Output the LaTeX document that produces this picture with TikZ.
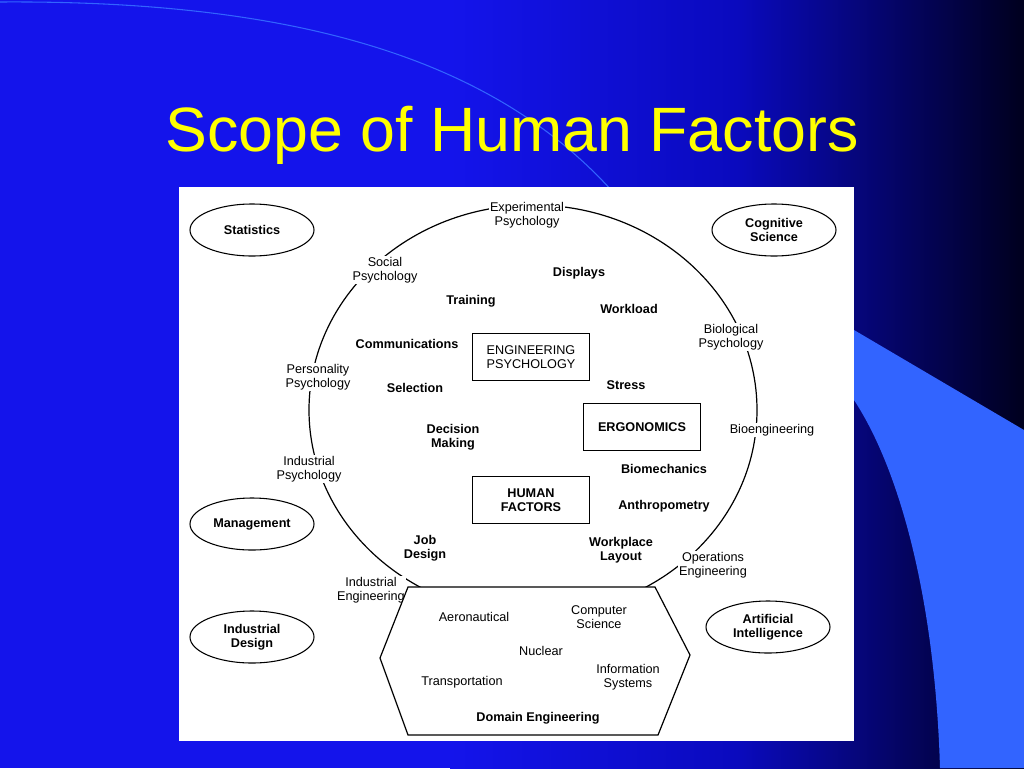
\documentclass[tikz,border=0pt]{standalone}
\usepackage{fontspec}
\setmainfont{Liberation Sans}
\usetikzlibrary{shapes.geometric}
\definecolor{bgA}{RGB}{20,20,235}
\definecolor{bgM}{RGB}{10,10,190}
\definecolor{bgB}{RGB}{0,0,30}
\definecolor{deco}{RGB}{50,100,255}
\definecolor{ttl}{RGB}{255,255,0}
\begin{document}
\begin{tikzpicture}[x=0.75pt,y=-0.75pt,
 lab/.style={font=\fontsize{9.5}{10.5}\selectfont,align=center,inner sep=1pt},
 bl/.style={lab,font=\fontsize{9.5}{10.5}\selectfont\bfseries},
 wl/.style={lab,fill=white},
 ov/.style={draw,ellipse,minimum width=93pt,minimum height=39pt,bl,line width=0.8pt},
 bx/.style={draw,bl,line width=1pt,minimum width=88pt,minimum height=35pt}]
\useasboundingbox (0,0) rectangle (1024,768);
\fill[bgA] (0,0) rectangle (1024,768);
\shade[left color=bgA,right color=bgB,middle color=bgM] (450,0) rectangle (1024,768);
\fill[deco] (854,330) -- (1024,430) -- (1024,768) -- (940,768) .. controls (935,600) and (900,470) .. (854,400) -- cycle;
\draw[deco,line width=0.8pt] (0,2) .. controls (300,0) and (500,60) .. (620,200);
\node[text=ttl,font=\fontsize{47}{54}\selectfont] (title) at (512,135) {Scope of Human Factors};
\fill[white] (179,187) rectangle (854,741);
\draw[line width=0.9pt] (533,410) ellipse [x radius=224, y radius=205];
\node[wl] (ep) at (527,215) {Experimental\\Psychology};
\node[wl] (sp) at (385,270) {Social\\Psychology};
\node[wl] (pp) at (318,377) {Personality\\Psychology};
\node[wl] (ip) at (309,469) {Industrial\\Psychology};
\node[wl] (ie) at (371,590) {Industrial\\Engineering};
\node[wl] (bp) at (731,337) {Biological\\Psychology};
\node[wl] (be) at (772,430) {Bioengineering};
\node[wl] (oe) at (713,565) {Operations\\Engineering};
\node[ov] (st) at (252,230) {Statistics};
\node[ov] (cs) at (774,230) {Cognitive\\Science};
\node[ov] (mg) at (252,524) {Management};
\node[ov] (id) at (252,637) {Industrial\\Design};
\node[ov] (ai) at (768,627) {Artificial\\Intelligence};
\node[bx,font=\fontsize{9.5}{10.5}\selectfont,fill=white] (eng) at (531,357) {ENGINEERING\\PSYCHOLOGY};
\node[bx] (erg) at (642,427) {ERGONOMICS};
\node[bx] (hf) at (531,500) {HUMAN\\FACTORS};
\node[bl] (d) at (579,273) {Displays};
\node[bl] (t) at (471,301) {Training};
\node[bl] (w) at (629,309) {Workload};
\node[bl] (c) at (407,344) {Communications};
\node[bl] (s) at (415,388) {Selection};
\node[bl] (str) at (626,385) {Stress};
\node[bl] (dm) at (453,437) {Decision\\Making};
\node[bl] (bm) at (664,469) {Biomechanics};
\node[bl] (an) at (664,506) {Anthropometry};
\node[bl] (jd) at (425,548) {Job\\Design};
\node[bl] (wp) at (621,550) {Workplace\\Layout};
\draw[line width=0.9pt,fill=white] (380,658) -- (408,587) -- (655,587) -- (690,655) -- (658,735) -- (408,735) -- cycle;
\node[lab] (ae) at (474,617) {Aeronautical};
\node[lab] (cps) at (599,617) {Computer\\Science};
\node[lab] (nu) at (541,651) {Nuclear};
\node[lab] (is) at (628,677) {Information\\Systems};
\node[lab] (tr) at (462,682) {Transportation};
\node[bl] (de) at (538,718) {Domain Engineering};
\end{tikzpicture}
\end{document}
